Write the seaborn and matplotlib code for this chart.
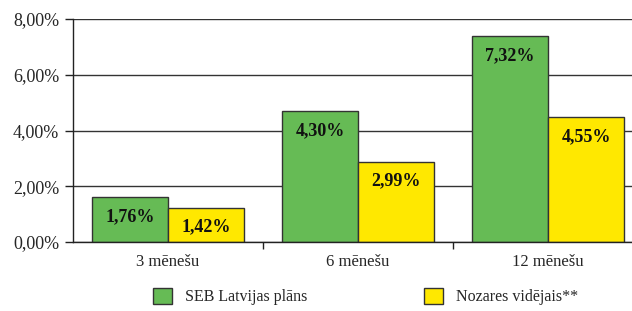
import pandas as pd
import seaborn as sns
from matplotlib import pyplot as plt
from matplotlib.ticker import FuncFormatter, FixedLocator

periods = ["3 mēnešu", "6 mēnešu", "12 mēnešu"]
series_names = ["SEB Latvijas plāns", "Nozares vidējais**"]
# bar heights as drawn in the picture
seb_heights = [1.60, 4.70, 7.38]
industry_heights = [1.23, 2.88, 4.48]
# value labels printed on the bars
seb_labels = ["1,76%", "4,30%", "7,32%"]
industry_labels = ["1,42%", "2,99%", "4,55%"]
palette = ["#66BB55", "#FFE800"]


def pct_comma(value, pos=None):
    return f"{value:.2f}%".replace(".", ",")


df = pd.DataFrame({
    "period": periods * 2,
    "series": [series_names[0]] * 3 + [series_names[1]] * 3,
    "value": seb_heights + industry_heights,
})

sns.set_style("white")
plt.rcParams['font.family'] = ['Liberation Serif', 'DejaVu Serif']

fig = plt.figure(figsize=(6.32, 3.11), dpi=100)
ax = fig.add_axes([73 / 632, 69 / 311, 570 / 632, 223 / 311])

sns.barplot(data=df, x="period", y="value", hue="series", palette=palette,
            edgecolor="#333333", linewidth=1, saturation=1, ax=ax)

for container, labels in zip(ax.containers, [seb_labels, industry_labels]):
    ax.bar_label(container, labels=labels, padding=-20,
                 fontsize=13, fontweight="bold", color="#111111")

ax.set_xlim(-0.5, 2.5)
ax.set_ylim(0, 8)
ax.set_yticks([0, 2, 4, 6, 8])
ax.yaxis.set_major_formatter(FuncFormatter(pct_comma))
ax.grid(axis="y", color="#333333", linewidth=1)
ax.set_axisbelow(True)

ax.tick_params(axis="y", left=True, length=6, width=1, color="#222222",
               labelsize=13, pad=4)
ax.tick_params(axis="x", which="major", length=0, labelsize=12, pad=9)
ax.xaxis.set_minor_locator(FixedLocator([0.5, 1.5]))
ax.tick_params(axis="x", which="minor", bottom=True, length=5, width=1,
               color="#222222")

for side in ["top", "right"]:
    ax.spines[side].set_visible(False)
for side in ["left", "bottom"]:
    ax.spines[side].set_color("#222222")
    ax.spines[side].set_linewidth(1)

ax.set_xlabel("")
ax.set_ylabel("")

handles, labels = ax.get_legend_handles_labels()
ax.get_legend().remove()
fig.legend(handles, labels, loc="center", bbox_to_anchor=(0.578, 0.047), ncol=2,
           frameon=False, fontsize=11.5, handlelength=1.2, handleheight=1.2,
           handletextpad=0.8, columnspacing=7.3)

fig.savefig("out.png", dpi=100)
